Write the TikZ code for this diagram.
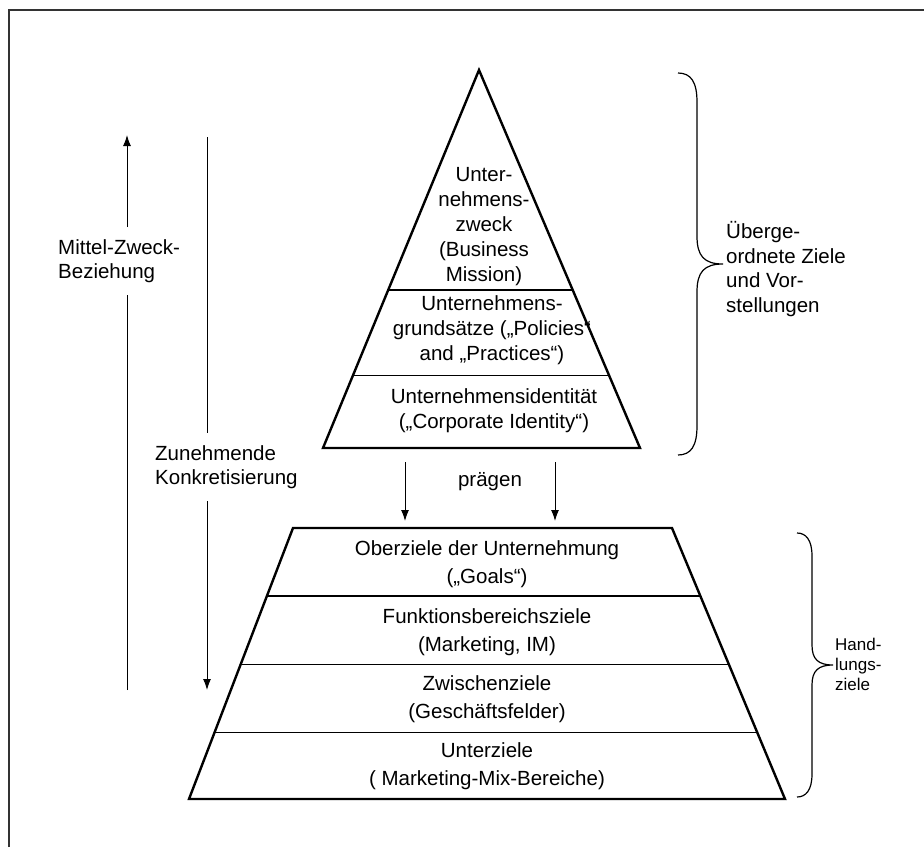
\documentclass[tikz,border=0pt]{standalone}
\usepackage{fontspec}
\setmainfont{Liberation Sans}
\usetikzlibrary{arrows.meta,calc}
\begin{document}
\begin{tikzpicture}[x=1pt,y=-1pt,
  txt/.style={font=\fontsize{20.5}{25}\selectfont, align=center, inner sep=0pt},
  txtb/.style={font=\fontsize{20.5}{28}\selectfont, align=center, inner sep=0pt},
  txtl/.style={font=\fontsize{20.5}{24.5}\selectfont, align=left, inner sep=0pt, anchor=west},
  txts/.style={font=\fontsize{17}{20}\selectfont, align=left, inner sep=0pt, anchor=west},
  edge/.style={line width=2.4pt, line join=miter},
  divider/.style={line width=1.1pt},
  arr/.style={line width=1pt, -{Latex[length=11pt,width=8pt]}},
  plain/.style={line width=1pt},
  brace/.style={line width=1.2pt}]
\useasboundingbox (0,0) rectangle (924,847);
% frame
\draw[line width=1.6pt, black!80] (9,847) -- (9,10) -- (924,10);

% ---------- triangle ----------
\coordinate (apex) at (479,70);
\coordinate (tbl) at (323,448);
\coordinate (tbr) at (640,448);
\draw[divider] ($(apex)!0.582!(tbl)$) -- ($(apex)!0.582!(tbr)$);
\draw[divider] ($(apex)!0.807!(tbl)$) -- ($(apex)!0.807!(tbr)$);
\draw[edge] (apex) -- (tbr) -- (tbl) -- cycle;
\node[txt] (t1) at (484,227) {Unter-\\nehmens-\\zweck\\(Business\\Mission)};
\node[txt] (t2) at (492,330) {Unternehmens-\\grundsätze („Policies“\\and „Practices“)};
\node[txt] (t3) at (494,411) {Unternehmensidentität\\(„Corporate Identity“)};

% ---------- trapezoid ----------
\coordinate (ztl) at (293,528);
\coordinate (ztr) at (672,528);
\coordinate (zbl) at (189,799);
\coordinate (zbr) at (785,799);
\draw[divider] ($(ztl)!0.251!(zbl)$) -- ($(ztr)!0.251!(zbr)$);
\draw[divider] ($(ztl)!0.502!(zbl)$) -- ($(ztr)!0.502!(zbr)$);
\draw[divider] ($(ztl)!0.756!(zbl)$) -- ($(ztr)!0.756!(zbr)$);
\draw[edge] (ztl) -- (ztr) -- (zbr) -- (zbl) -- cycle;
\node[txtb] (b1) at (487,564) {Oberziele der Unternehmung\\(„Goals“)};
\node[txtb] (b2) at (487,632) {Funktionsbereichsziele\\(Marketing, IM)};
\node[txtb] (b3) at (487,699) {Zwischenziele\\(Geschäftsfelder)};
\node[txtb] (b4) at (487,766) {Unterziele\\( Marketing-Mix-Bereiche)};

% ---------- prägen ----------
\node[txt] (praegen) at (490,482) {prägen};
\coordinate (p1s) at (405,462);
\coordinate (p1e) at (405,521);
\coordinate (p2s) at (555,462);
\coordinate (p2e) at (555,521);
\draw[arr] (p1s) -- (p1e);
\draw[arr] (p2s) -- (p2e);

% ---------- left arrows ----------
\node[txtl] (mz) at (58,261) {Mittel-Zweck-\\Beziehung};
\coordinate (uptop) at (127,135);
\coordinate (upbot) at (127,690);
\draw[plain] (upbot) -- ($(mz.south -| upbot)+(0,12)$);
\draw[arr] ($(mz.north -| upbot)+(0,-12)$) -- (uptop);

\node[txtl] (zk) at (155,467) {Zunehmende\\Konkretisierung};
\coordinate (dntop) at (207,137);
\coordinate (dnbot) at (207,690);
\draw[plain] (dntop) -- ($(zk.north -| dntop)+(0,-12)$);
\draw[arr] ($(zk.south -| dntop)+(0,12)$) -- (dnbot);

% ---------- braces ----------
\draw[brace] (678,73) .. controls (691,73) and (697,82) .. (697,102)
  -- (697,236) .. controls (697,256) and (704,264) .. (723,264)
  .. controls (704,264) and (697,272) .. (697,292)
  -- (697,426) .. controls (697,446) and (691,455) .. (678,455);
\node[txtl] (ueb) at (726,269) {Überge-\\ordnete Ziele\\und Vor-\\stellungen};

\draw[brace] (797,533) .. controls (806,533) and (812,540) .. (812,556)
  -- (812,645) .. controls (812,659) and (818,665) .. (833,665)
  .. controls (818,665) and (812,671) .. (812,685)
  -- (812,774) .. controls (812,790) and (806,797) .. (797,797);
\node[txts] (hand) at (835,664) {Hand-\\lungs-\\ziele};
\end{tikzpicture}
\end{document}
